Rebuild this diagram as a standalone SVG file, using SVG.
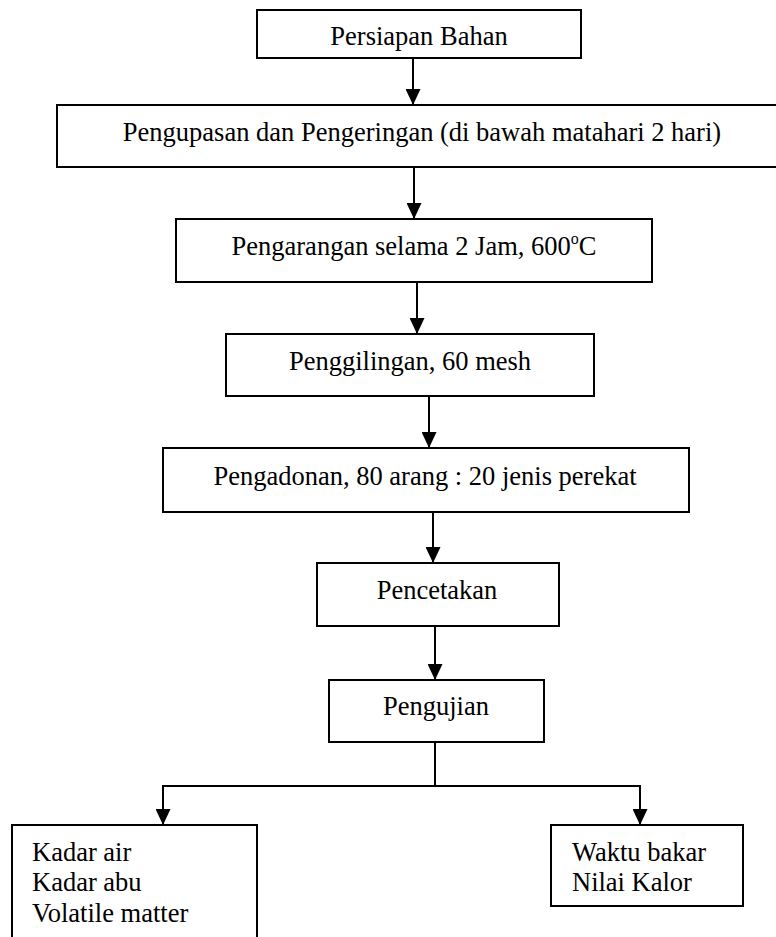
<svg xmlns="http://www.w3.org/2000/svg" width="776" height="937" viewBox="0 0 776 937">
<style>
.box{fill:#fff;stroke:#000;stroke-width:2}
.t{font-family:"Liberation Serif","Times New Roman",serif;font-size:26.5px;fill:#000}
.c{text-anchor:middle}
.ln{fill:none;stroke:#000;stroke-width:2}
</style>
<defs>
<marker id="ah" markerUnits="userSpaceOnUse" markerWidth="16" markerHeight="15" refX="16" refY="7.5" orient="auto">
<path d="M0,0 L16,7.5 L0,15 z" fill="#000"/>
</marker>
</defs>
<rect width="776" height="937" fill="#fff"/>
<g id="connectors">
<path class="ln" d="M413,58 V105" marker-end="url(#ah)"/>
<path class="ln" d="M414,167 V219" marker-end="url(#ah)"/>
<path class="ln" d="M417,282 V334" marker-end="url(#ah)"/>
<path class="ln" d="M429,396 V448" marker-end="url(#ah)"/>
<path class="ln" d="M433,512 V563" marker-end="url(#ah)"/>
<path class="ln" d="M435,626 V680" marker-end="url(#ah)"/>
<path class="ln" d="M435,742 V786 H163 V825" marker-end="url(#ah)"/>
<path class="ln" d="M435,786 H640 V825" marker-end="url(#ah)"/>
</g>
<g id="n1"><rect class="box" x="257" y="10" width="324" height="48"/><text class="t c" x="419" y="45">Persiapan Bahan</text></g>
<g id="n2"><rect class="box" x="57" y="105" width="740" height="62"/><text class="t c" x="422" y="141">Pengupasan dan Pengeringan (di bawah matahari 2 hari)</text></g>
<g id="n3"><rect class="box" x="176" y="219" width="476" height="63"/><text class="t c" x="414" y="255">Pengarangan selama 2 Jam, 600<tspan font-size="16" dy="-11">o</tspan><tspan dy="11">C</tspan></text></g>
<g id="n4"><rect class="box" x="226" y="334" width="368" height="62"/><text class="t c" x="410" y="370">Penggilingan, 60 mesh</text></g>
<g id="n5"><rect class="box" x="163" y="448" width="526" height="64"/><text class="t c" x="425" y="485">Pengadonan, 80 arang : 20 jenis perekat</text></g>
<g id="n6"><rect class="box" x="317" y="563" width="242" height="63"/><text class="t c" x="437" y="599">Pencetakan</text></g>
<g id="n7"><rect class="box" x="329" y="680" width="215" height="62"/><text class="t c" x="436" y="715">Pengujian</text></g>
<g id="n8"><rect class="box" x="12" y="825" width="245" height="130"/><text class="t" x="32" y="861">Kadar air</text><text class="t" x="32" y="891">Kadar abu</text><text class="t" x="32" y="922">Volatile matter</text></g>
<g id="n9"><rect class="box" x="551" y="825" width="192" height="81"/><text class="t" x="572" y="861">Waktu bakar</text><text class="t" x="572" y="891">Nilai Kalor</text></g>
</svg>
